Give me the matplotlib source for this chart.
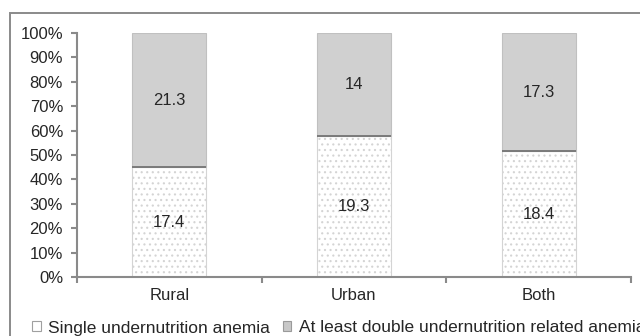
import matplotlib
matplotlib.use("Agg")
import matplotlib.pyplot as plt
from matplotlib.patches import Rectangle, Patch
import numpy as np

categories = ["Rural", "Urban", "Both"]
single_vals = [17.4, 19.3, 18.4]
double_vals = [21.3, 14, 17.3]
series_names = ["Single undernutrition anemia", "At least double undernutrition related anemia"]
yticks = [0, 10, 20, 30, 40, 50, 60, 70, 80, 90, 100]
ytick_labels = [f"{v}%" for v in yticks]

plt.rcParams['font.family'] = ['Liberation Sans', 'DejaVu Sans']
plt.rcParams['hatch.linewidth'] = 0.8

AX_COL = '#8a8a8a'
TXT_COL = '#262626'

fig = plt.figure(figsize=(6.4, 3.36), dpi=100)
ax = fig.add_axes([77/640, 1-277/336, (631-77)/640, (277-33)/336])

single = np.array(single_vals)
double = np.array(double_vals)
tot = single + double
sp = single / tot * 100
dp = double / tot * 100
x = np.arange(len(categories))
w = 0.4

ax.bar(x, sp, width=w, color='white', edgecolor='#d4d4d4', hatch='...', linewidth=0.8, zorder=2)
ax.bar(x, dp, bottom=sp, width=w, color='#d0d0d0', edgecolor='#c0c0c0', linewidth=0.8, zorder=2)
# dark separator line
ax.hlines(sp, x - w/2, x + w/2, color='#7a7a7a', linewidth=1.4, zorder=3)

for xi, s, d, sv, dv in zip(x, sp, dp, single_vals, double_vals):
    ax.text(xi, s/2, f"{sv:g}", ha='center', va='center', fontsize=12, color=TXT_COL, zorder=4)
    ax.text(xi, s + d/2, f"{dv:g}", ha='center', va='center', fontsize=12, color=TXT_COL, zorder=4)

ax.set_xlim(-0.5, 2.5)
ax.set_ylim(0, 100)
ax.set_yticks(yticks)
ax.set_yticklabels(ytick_labels)
ax.set_xticks(x)
ax.set_xticklabels(categories)
ax.set_xticks([-0.5, 0.5, 1.5, 2.5], minor=True)

for s in ['top', 'right']:
    ax.spines[s].set_visible(False)
for s in ['left', 'bottom']:
    ax.spines[s].set_color(AX_COL)
    ax.spines[s].set_linewidth(1.5)

ax.tick_params(axis='y', length=4, width=1.5, color=AX_COL, pad=6, labelsize=12, labelcolor=TXT_COL)
ax.tick_params(axis='x', which='major', length=0, pad=8, labelsize=12, labelcolor=TXT_COL)
ax.tick_params(axis='x', which='minor', length=4, width=1.5, color=AX_COL)

# outer frame
fig.patches.append(Rectangle((10/640, -0.2), 2, 1.2 - 13/336, transform=fig.transFigure,
                             fill=False, edgecolor='#8a8a8a', linewidth=1.4, zorder=0))

handles = [Patch(facecolor='white', edgecolor='#a0a0a0', linewidth=0.8),
           Patch(facecolor='#c8c8c8', edgecolor='#9a9a9a', linewidth=0.8)]
fig.legend(handles, series_names, loc='center left', bbox_to_anchor=(32/640, 1-328/336),
           ncol=2, frameon=False, fontsize=12.5, handlelength=0.5, handleheight=0.5,
           handletextpad=0.45, columnspacing=0.7, borderaxespad=0, borderpad=0,
           labelcolor=TXT_COL)

fig.savefig("out.png", dpi=100)
